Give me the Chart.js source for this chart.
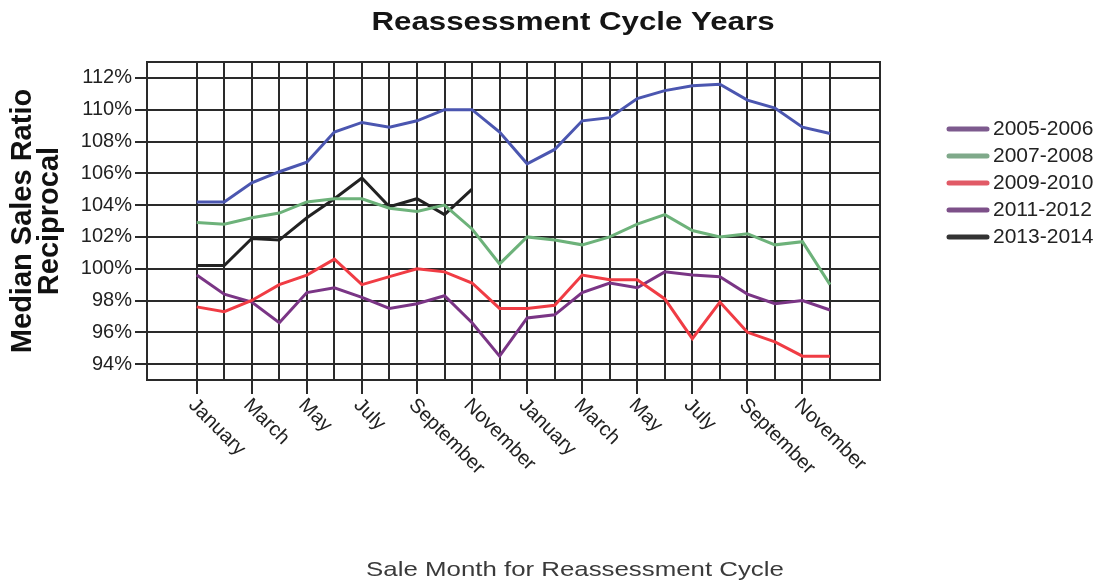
<!DOCTYPE html>
<html>
<head>
<meta charset="utf-8">
<title>Reassessment Cycle Years</title>
<script src="https://cdn.jsdelivr.net/npm/chart.js@4.4.1/dist/chart.umd.min.js"></script>
<style>
  html, body { margin: 0; padding: 0; background: #fff; }
  #wrap { width: 1099px; height: 587px; }
</style>
</head>
<body>
<div id="wrap"><canvas id="chart"></canvas></div>
<script>
// Chart data
const months = [
    'January', 'February', 'March', 'April', 'May', 'June',
    'July', 'August', 'September', 'October', 'November', 'December',
    'January', 'February', 'March', 'April', 'May', 'June',
    'July', 'August', 'September', 'October', 'November', 'December'
];
const seriesNames = ['2005-2006', '2007-2008', '2009-2010', '2011-2012', '2013-2014'];
const cycle0506 = [104.2, 104.2, 105.4, 106.1, 106.7, 108.6, 109.2, 108.9, 109.3, 110.0, 110.0, 108.6,
                   106.6, 107.5, 109.3, 109.5, 110.7, 111.2, 111.5, 111.6, 110.6, 110.1, 108.9, 108.5];
const cycle0708 = [102.9, 102.8, 103.2, 103.5, 104.2, 104.4, 104.4, 103.8, 103.6, 104.0, 102.5, 100.3,
                   102.0, 101.8, 101.5, 102.0, 102.8, 103.4, 102.4, 102.0, 102.2, 101.5, 101.7, 99.0];
const cycle0910 = [97.6, 97.3, 98.0, 99.0, 99.6, 100.6, 99.0, 99.5, 100.0, 99.8, 99.1, 97.5,
                   97.5, 97.7, 99.6, 99.3, 99.3, 98.1, 95.6, 97.9, 96.0, 95.4, 94.5, 94.5];
const cycle1112 = [99.6, 98.4, 97.9, 96.6, 98.5, 98.8, 98.2, 97.5, 97.8, 98.3, 96.6, 94.5,
                   96.9, 97.1, 98.5, 99.1, 98.8, 99.8, 99.6, 99.5, 98.4, 97.8, 98.0, 97.4];
const cycle1314 = [100.2, 100.2, 101.9, 101.8, 103.2, 104.4, 105.7, 103.9, 104.4, 103.4, 105.0];
const yTicks = [94, 96, 98, 100, 102, 104, 106, 108, 110, 112];

const chartTitle = 'Reassessment Cycle Years';
const xTitle = 'Sale Month for Reassessment Cycle';
const yTitle = ['Median Sales Ratio', 'Reciprocal'];

// Styles
const lineColors = ['#4b56b0', '#6db27a', '#f03c44', '#7a3585', '#222222'];
const legendColors = ['#7d5a8e', '#7fa98a', '#e15a66', '#7d5089', '#333333'];
const gridColor = '#2a2a2a';
const fontFamily = '"Liberation Sans", Arial, sans-serif';

const allSeries = [cycle0506, cycle0708, cycle0910, cycle1112, cycle1314];

// draw text stretched horizontally around its anchor
function wideText(ctx, text, x, y, sx) {
    ctx.save();
    ctx.translate(x, y);
    ctx.scale(sx, 1);
    ctx.fillText(text, 0, 0);
    ctx.restore();
}

const decorations = {
    id: 'decorations',
    beforeDraw(chart) {
        const ctx = chart.ctx;
        ctx.save();
        ctx.fillStyle = '#fff';
        ctx.fillRect(0, 0, chart.width, chart.height);
        ctx.restore();
    },
    afterDraw(chart) {
        const ctx = chart.ctx;
        const area = chart.chartArea;
        const xs = chart.scales.x;
        ctx.save();

        // plot frame
        ctx.strokeStyle = gridColor;
        ctx.lineWidth = 2;
        ctx.strokeRect(area.left, area.top, area.right - area.left, area.bottom - area.top);

        // chart title
        ctx.fillStyle = '#151515';
        ctx.textAlign = 'center';
        ctx.textBaseline = 'middle';
        ctx.font = 'bold 25px ' + fontFamily;
        wideText(ctx, chartTitle, 573, 23, 1.25);

        // x axis title
        ctx.fillStyle = '#3a3a3a';
        ctx.font = '21px ' + fontFamily;
        wideText(ctx, xTitle, 575, 570, 1.23);

        // rotated month labels, every second month
        ctx.fillStyle = '#222';
        ctx.font = '20px ' + fontFamily;
        ctx.textAlign = 'left';
        ctx.textBaseline = 'top';
        months.forEach((m, i) => {
            if (i % 2) return;
            const x = xs.getPixelForValue(i);
            ctx.save();
            ctx.translate(x + 2, area.bottom + 15);
            ctx.rotate(Math.PI / 4);
            ctx.fillText(m, 0, 0);
            ctx.restore();
        });

        // legend
        ctx.textBaseline = 'middle';
        ctx.font = '21px ' + fontFamily;
        ctx.lineCap = 'round';
        seriesNames.forEach((name, i) => {
            const y = 129 + i * 27;
            const x0 = area.right + 69;
            ctx.strokeStyle = legendColors[i];
            ctx.lineWidth = 5;
            ctx.beginPath();
            ctx.moveTo(x0, y);
            ctx.lineTo(x0 + 38, y);
            ctx.stroke();
            ctx.fillStyle = '#222';
            ctx.fillText(name, x0 + 44, y);
        });
        ctx.restore();
    }
};

const chart = new Chart(document.getElementById('chart'), {
    type: 'line',
    data: {
        datasets: allSeries.map((s, i) => ({
            label: seriesNames[i],
            data: s.map((v, j) => ({ x: j, y: v })),
            borderColor: lineColors[i],
            borderWidth: 3,
            pointRadius: 0,
            tension: 0,
            fill: false
        }))
    },
    options: {
        responsive: true,
        maintainAspectRatio: false,
        animation: false,
        layout: {
            padding: { top: 62, right: 219, left: 0, bottom: 0 }
        },
        plugins: {
            legend: { display: false },
            tooltip: { enabled: false },
            title: { display: false }
        },
        scales: {
            x: {
                type: 'linear',
                min: -1.805,
                max: 24.815,
                afterBuildTicks: scale => {
                    scale.ticks = months.map((m, i) => ({ value: i }));
                },
                afterFit: scale => { scale.height = 207; },
                ticks: { display: false },
                border: { display: false },
                grid: {
                    color: gridColor,
                    lineWidth: 2,
                    tickLength: 14,
                    tickColor: ctx => (ctx.index % 2 === 0 ? gridColor : 'rgba(0,0,0,0)')
                }
            },
            y: {
                min: 93,
                max: 113,
                afterBuildTicks: scale => {
                    scale.ticks = yTicks.map(v => ({ value: v }));
                },
                afterFit: scale => { scale.width = 147; },
                border: { display: false },
                grid: {
                    color: gridColor,
                    lineWidth: 2,
                    tickLength: 12
                },
                ticks: {
                    padding: 3,
                    color: '#222',
                    font: { family: fontFamily, size: 20 },
                    callback: v => v + '%'
                },
                title: {
                    display: true,
                    text: yTitle,
                    color: '#111',
                    font: { family: fontFamily, size: 29, weight: 'bold', lineHeight: '27px' },
                    padding: { top: 9, bottom: 0 }
                }
            }
        }
    },
    plugins: [decorations]
});
</script>
</body>
</html>
